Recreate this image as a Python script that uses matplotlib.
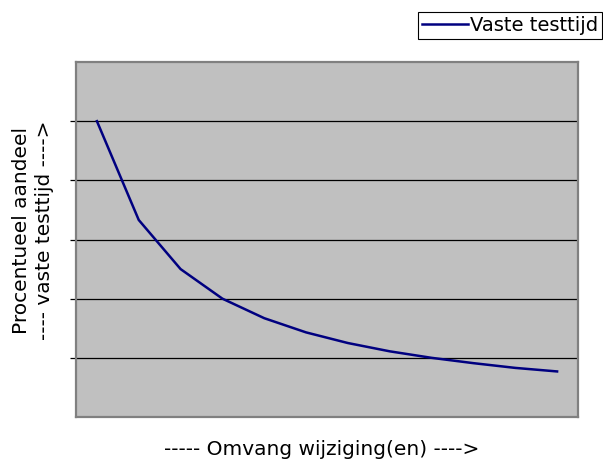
import matplotlib
matplotlib.use("Agg")
import matplotlib.pyplot as plt

categories = list(range(1, 13))
values = [5.0, 3.33, 2.5, 2.0, 1.67, 1.43, 1.25, 1.11, 1.0, 0.91, 0.83, 0.77]
series_name = "Vaste testtijd"
xlabel = "----- Omvang wijziging(en) ---->"
ylabel = "Procentueel aandeel\n---- vaste testtijd ---->"

W, H = 603, 461
fig = plt.figure(figsize=(W / 100, H / 100), dpi=100)
ax = fig.add_axes([76 / W, 1 - 417 / H, (578 - 76) / W, (417 - 62) / H])
ax.set_facecolor("#c0c0c0")

ax.plot(categories, values, color="#000080", lw=1.8, label=series_name, zorder=3)
ax.set_xlim(0.5, 12.5)
ax.set_ylim(0, 6)
ax.set_yticks([1, 2, 3, 4, 5])
ax.yaxis.grid(True, color="black", lw=0.9)
ax.set_axisbelow(True)
ax.set_xticks([])
ax.tick_params(axis="y", length=4, width=0.9, labelleft=False, color="black")
for s in ax.spines.values():
    s.set_color("#808080")
    s.set_linewidth(1.6)

fs = 14.5
xl = ax.set_xlabel(xlabel, fontsize=fs, family="DejaVu Sans")
xl.set_va("center")
ax.xaxis.set_label_coords(0.49, (417 - 449) / 355)
yl = ax.set_ylabel(ylabel, fontsize=fs, family="DejaVu Sans", linespacing=1.25)
yl.set_va("center")
ax.yaxis.set_label_coords((33 - 76) / 502, (417 - 230) / 355)

leg = fig.legend(loc="upper right", bbox_to_anchor=(0.999, 1 - 12 / H),
                 bbox_transform=fig.transFigure, borderaxespad=0,
                 fancybox=False, edgecolor="black", framealpha=1,
                 fontsize=14, handlelength=2.4, handletextpad=0.1,
                 borderpad=0.2)
leg.get_frame().set_linewidth(0.8)

fig.savefig("out.png", dpi=100)
